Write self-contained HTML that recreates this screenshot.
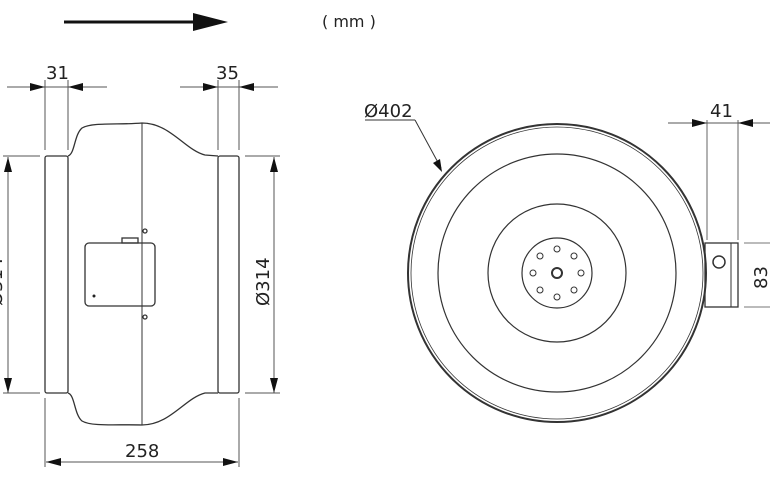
<!DOCTYPE html>
<html><head><meta charset="utf-8"><style>
html,body{margin:0;padding:0;background:#fff;width:770px;height:482px;overflow:hidden}
svg{display:block}
text{font-family:"DejaVu Sans","Liberation Sans",sans-serif;fill:#222}
</style></head><body>
<svg width="770" height="482" viewBox="0 0 770 482" xmlns="http://www.w3.org/2000/svg">
<g stroke="#333" fill="none" stroke-width="1">
<line x1="64" y1="22" x2="196" y2="22" stroke-width="3" stroke="#111"/>
</g>
<polygon points="193,13 228,22 193,31" fill="#111"/>
<text x="322" y="27" font-size="16">( mm )</text>

<g stroke="#555" stroke-width="1" fill="none">
<line x1="7" y1="87" x2="107" y2="87"/>
<line x1="180" y1="87" x2="278" y2="87"/>
<line x1="45" y1="80" x2="45" y2="150"/>
<line x1="68" y1="80" x2="68" y2="150"/>
<line x1="218" y1="80" x2="218" y2="150"/>
<line x1="239" y1="80" x2="239" y2="150"/>
<line x1="8" y1="157" x2="8" y2="393"/>
<line x1="3" y1="156" x2="40" y2="156"/>
<line x1="3" y1="393" x2="40" y2="393"/>
<line x1="274" y1="157" x2="274" y2="393"/>
<line x1="245" y1="156" x2="280" y2="156"/>
<line x1="245" y1="393" x2="280" y2="393"/>
<line x1="45" y1="398" x2="45" y2="467"/>
<line x1="239" y1="398" x2="239" y2="467"/>
<line x1="46" y1="462" x2="238" y2="462"/>
</g>
<g fill="#111">
<polygon points="30,83 45,87 30,91"/>
<polygon points="83,83 68,87 83,91"/>
<polygon points="203,83 218,87 203,91"/>
<polygon points="254,83 239,87 254,91"/>
<polygon points="4,172 8,157 12,172"/>
<polygon points="4,378 8,393 12,378"/>
<polygon points="270,172 274,157 278,172"/>
<polygon points="270,378 274,393 278,378"/>
<polygon points="61,458 46,462 61,466"/>
<polygon points="223,458 238,462 223,466"/>
</g>
<text x="46" y="79" font-size="18">31</text>
<text x="216" y="79" font-size="18">35</text>
<text x="125" y="457" font-size="18">258</text>
<text transform="translate(269,306) rotate(-90)" font-size="18">Ø314</text>
<text transform="translate(2,306) rotate(-90)" font-size="18">Ø314</text>

<g stroke="#333" stroke-width="1.3" fill="none">
<rect x="45" y="156" width="23" height="237" rx="2"/>
<rect x="218" y="156" width="21" height="237" rx="2"/>
<path d="M68,156 C75,154 74,135 82,128 C92,122 120,125 142,123 C170,123 185,150 205,155 L218,156"/>
<path d="M68,393 C75,395 74,414 82,421 C92,427 120,424 142,425 C170,425 185,398 205,393 L218,393"/>
<line x1="142" y1="123" x2="142" y2="425" stroke-width="1"/>
<rect x="85" y="243" width="70" height="63" rx="4"/>
<rect x="122" y="238" width="16" height="5"/>
<circle cx="145" cy="231" r="2"/>
<circle cx="145" cy="317" r="2"/>
</g>
<circle cx="94" cy="296" r="1.5" fill="#222"/>

<g stroke="#333" fill="none">
<circle cx="557" cy="273" r="149" stroke-width="2"/>
<circle cx="557" cy="273" r="146" stroke-width="0.8"/>
<circle cx="557" cy="273" r="119" stroke-width="1.2"/>
<circle cx="557" cy="273" r="69" stroke-width="1.2"/>
<circle cx="557" cy="273" r="35" stroke-width="1.2"/>
<circle cx="557" cy="273" r="5" stroke-width="2"/>
<circle cx="557" cy="249" r="3"/>
<circle cx="557" cy="297" r="3"/>
<circle cx="533" cy="273" r="3"/>
<circle cx="581" cy="273" r="3"/>
<circle cx="540" cy="256" r="3"/>
<circle cx="574" cy="256" r="3"/>
<circle cx="540" cy="290" r="3"/>
<circle cx="574" cy="290" r="3"/>
<rect x="705" y="243" width="33" height="64" stroke-width="1.3"/>
<line x1="731" y1="243" x2="731" y2="307"/>
<circle cx="719" cy="262" r="6" stroke-width="1.5"/>
<line x1="707" y1="120" x2="707" y2="240" stroke="#666"/>
<line x1="738" y1="120" x2="738" y2="240" stroke="#666"/>
<line x1="668" y1="123" x2="770" y2="123" stroke="#555"/>
<line x1="744" y1="243" x2="770" y2="243" stroke="#777"/>
<line x1="744" y1="307" x2="770" y2="307" stroke="#777"/>
<line x1="365" y1="120" x2="415" y2="120" stroke="#333"/>
<line x1="415" y1="120" x2="441" y2="168" stroke="#333"/>
</g>
<g fill="#111">
<polygon points="692,119 707,123 692,127"/>
<polygon points="753,119 738,123 753,127"/>
<polygon points="433,163 442,172 440,159"/>
</g>
<text x="710" y="117" font-size="18">41</text>
<text transform="translate(767,289) rotate(-90)" font-size="18">83</text>
<text x="364" y="117" font-size="18">Ø402</text>
</svg>
</body></html>
